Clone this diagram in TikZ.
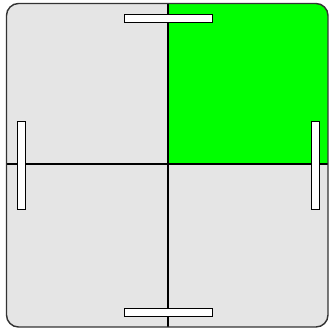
\documentclass[tikz,border=0pt]{standalone}
\usepackage{tikz}
\definecolor{panelgray}{RGB}{229,229,229}
\definecolor{edgegray}{RGB}{51,51,51}
\begin{document}
\begin{tikzpicture}[x=1pt, y=-1pt, thick]
    \useasboundingbox (0,0) rectangle (331,330);
    \coordinate (TL) at (6.5,3.5);
    \coordinate (BR) at (328,327);
    \coordinate (O) at (168,164);
    % panel
    \begin{scope}
        \clip[rounded corners=12pt] (TL) rectangle (BR);
        \fill[panelgray] (TL) rectangle (BR);
        \fill[green] (O) rectangle (BR |- TL);
    \end{scope}
    \draw[black, line width=1.2pt] (O |- TL) -- (O |- BR);
    \draw[black, line width=1.2pt] (TL |- O) -- (BR |- O);
    \draw[edgegray, line width=1.4pt, rounded corners=12pt] (TL) rectangle (BR);
    % bars
    \draw[fill=white, line width=1pt] (124,14) rectangle (212,22);
    \draw[fill=white, line width=1pt] (124,308) rectangle (212,316);
    \draw[fill=white, line width=1pt] (17.5,121) rectangle (25,209);
    \draw[fill=white, line width=1pt] (311.5,121) rectangle (319,209);
\end{tikzpicture}
\end{document}
